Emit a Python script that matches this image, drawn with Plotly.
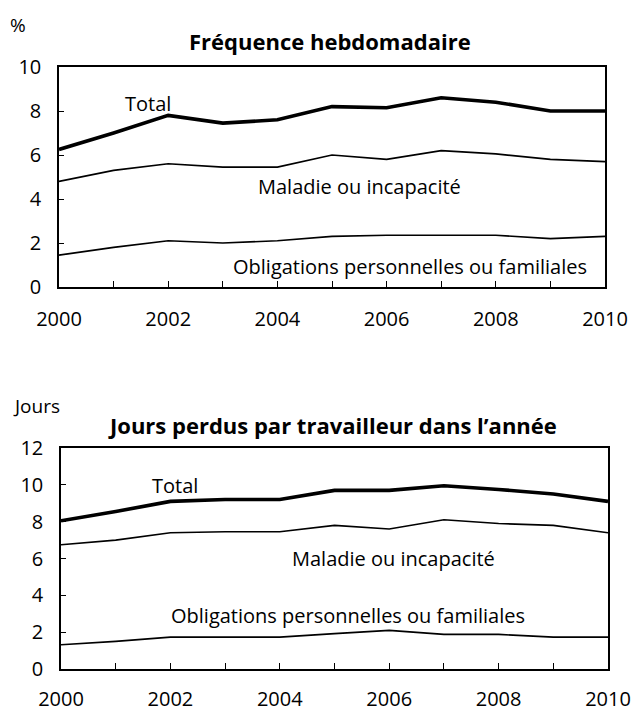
import plotly.graph_objects as go

years = list(range(2000, 2011))
year_labels = ["2000", "", "2002", "", "2004", "", "2006", "", "2008", "", "2010"]

# Panel 1: Fréquence hebdomadaire (%)
freq_total = [6.25, 7.0, 7.8, 7.45, 7.6, 8.2, 8.15, 8.6, 8.4, 8.0, 8.0]
freq_maladie = [4.8, 5.3, 5.6, 5.45, 5.45, 6.0, 5.8, 6.2, 6.05, 5.8, 5.7]
freq_oblig = [1.45, 1.8, 2.1, 2.0, 2.1, 2.3, 2.35, 2.35, 2.35, 2.2, 2.3]

# Panel 2: Jours perdus par travailleur dans l'année
jours_total = [8.05, 8.55, 9.1, 9.2, 9.2, 9.7, 9.7, 9.95, 9.75, 9.5, 9.1]
jours_maladie = [6.75, 7.0, 7.4, 7.45, 7.45, 7.8, 7.6, 8.1, 7.9, 7.8, 7.4]
jours_oblig = [1.32, 1.5, 1.73, 1.73, 1.73, 1.92, 2.1, 1.88, 1.88, 1.73, 1.73]

W, H = 632, 711
FONT = "Open Sans"

fig = go.Figure()

def add_panel(idx, total, maladie, oblig):
    xa = "x" if idx == 1 else "x2"
    ya = "y" if idx == 1 else "y2"
    for vals, w in ((oblig, 1.6), (maladie, 1.6), (total, 3.6)):
        fig.add_trace(go.Scatter(x=years, y=vals, mode="lines",
                                 line=dict(color="black", width=w),
                                 xaxis=xa, yaxis=ya, showlegend=False,
                                 hoverinfo="skip"))

add_panel(1, freq_total, freq_maladie, freq_oblig)
add_panel(2, jours_total, jours_maladie, jours_oblig)

axis_common = dict(showline=True, linecolor="black", linewidth=1.5, mirror=True,
                   showgrid=False, zeroline=False, ticks="inside", tickcolor="black",
                   automargin=False,
                   tickfont=dict(family=FONT, size=20, color="black"))

def py(p):
    return 1 - p / H

fig.update_layout(
    width=W, height=H,
    margin=dict(l=0, r=0, t=0, b=0, autoexpand=False),
    paper_bgcolor="white", plot_bgcolor="white",
    font=dict(family=FONT, color="black"),
    xaxis=dict(axis_common, domain=[59 / W, 605 / W], range=[2000, 2010],
               tickmode="array", tickvals=years, ticktext=year_labels,
               ticklen=6, tickwidth=1.2, ticklabelstandoff=13, anchor="y"),
    yaxis=dict(axis_common, domain=[py(287), py(67)], range=[0, 10],
               tickmode="array", tickvals=[0, 2, 4, 6, 8, 10],
               ticklen=5, tickwidth=1.2, ticklabelstandoff=12, anchor="x"),
    xaxis2=dict(axis_common, domain=[61 / W, 608 / W], range=[2000, 2010],
                tickmode="array", tickvals=years, ticktext=year_labels,
                ticklen=6, tickwidth=1.2, ticklabelstandoff=11, anchor="y2"),
    yaxis2=dict(axis_common, domain=[py(669), py(448)], range=[0, 12],
                tickmode="array", tickvals=[0, 2, 4, 6, 8, 10, 12],
                ticklen=5, tickwidth=1.2, ticklabelstandoff=12, anchor="x2"),
)

lab_font = dict(family=FONT, size=20, color="black")
title_font = dict(family=FONT, size=22, color="black")
unit_font = dict(family=FONT, size=19, color="black")
mid = dict(xanchor="center", yanchor="middle", showarrow=False)
ann = [
    # panel titles and units
    dict(mid, text="<b>Fréquence hebdomadaire</b>", x=330 / W, y=py(41), xref="paper", yref="paper",
         font=title_font),
    dict(mid, text="%", x=18 / W, y=py(25), xref="paper", yref="paper", font=unit_font),
    dict(mid, text="<b>Jours perdus par travailleur dans l’année</b>", x=332 / W, y=py(425),
         xref="paper", yref="paper", font=title_font),
    dict(mid, text="Jours", x=36 / W, y=py(406), xref="paper", yref="paper", font=unit_font),
    # series labels, panel 1
    dict(mid, text="Total", x=2001.63, y=8.32, xref="x", yref="y", font=lab_font),
    dict(mid, text="Maladie ou incapacité", x=2005.51, y=4.59, xref="x", yref="y", font=lab_font),
    dict(mid, text="Obligations personnelles ou familiales", x=2006.43, y=0.92, xref="x", yref="y",
         font=lab_font),
    # series labels, panel 2
    dict(mid, text="Total", x=2002.08, y=9.99, xref="x2", yref="y2", font=lab_font),
    dict(mid, text="Maladie ou incapacité", x=2006.07, y=5.98, xref="x2", yref="y2", font=lab_font),
    dict(mid, text="Obligations personnelles ou familiales", x=2005.25, y=2.91, xref="x2", yref="y2",
         font=lab_font),
]
fig.update_layout(annotations=ann)

fig.write_html("out.html", config={"displayModeBar": False},
               post_script="document.body.style.margin='0';")
